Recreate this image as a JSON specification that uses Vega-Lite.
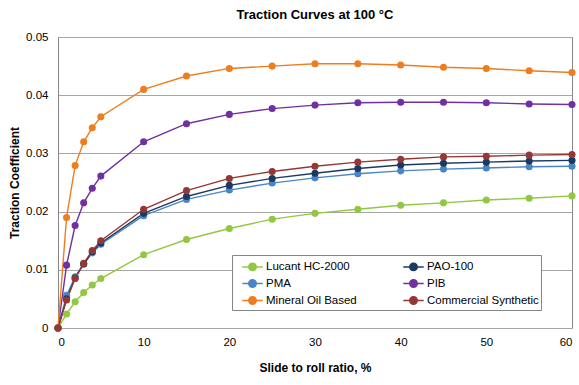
{
  "$schema": "https://vega.github.io/schema/vega-lite/v6.json",
  "width": 514,
  "height": 291,
  "autosize": {"type": "none"},
  "padding": {"left": 58, "top": 37, "right": 7, "bottom": 57},
  "background": "white",
  "title": {"text": "Traction Curves at 100 °C", "font": "Liberation Sans", "fontSize": 13, "fontWeight": "bold", "color": "#000000", "anchor": "middle", "offset": 9},
  "config": {
    "view": {"stroke": "#868686", "strokeWidth": 1},
    "font": "Liberation Sans"
  },
  "data": {"values": [
    {"x":0,"s":"Lucant HC-2000","y":0},{"x":1,"s":"Lucant HC-2000","y":0.0024},{"x":2,"s":"Lucant HC-2000","y":0.0045},{"x":3,"s":"Lucant HC-2000","y":0.0061},{"x":4,"s":"Lucant HC-2000","y":0.0074},{"x":5,"s":"Lucant HC-2000","y":0.0085},{"x":10,"s":"Lucant HC-2000","y":0.0126},{"x":15,"s":"Lucant HC-2000","y":0.0152},{"x":20,"s":"Lucant HC-2000","y":0.0171},{"x":25,"s":"Lucant HC-2000","y":0.0187},{"x":30,"s":"Lucant HC-2000","y":0.0197},{"x":35,"s":"Lucant HC-2000","y":0.0204},{"x":40,"s":"Lucant HC-2000","y":0.0211},{"x":45,"s":"Lucant HC-2000","y":0.0215},{"x":50,"s":"Lucant HC-2000","y":0.0220},{"x":55,"s":"Lucant HC-2000","y":0.0223},{"x":60,"s":"Lucant HC-2000","y":0.0227},
    {"x":0,"s":"PMA","y":0},{"x":1,"s":"PMA","y":0.0056},{"x":2,"s":"PMA","y":0.0088},{"x":3,"s":"PMA","y":0.0110},{"x":4,"s":"PMA","y":0.0129},{"x":5,"s":"PMA","y":0.0144},{"x":10,"s":"PMA","y":0.0193},{"x":15,"s":"PMA","y":0.0221},{"x":20,"s":"PMA","y":0.0237},{"x":25,"s":"PMA","y":0.0249},{"x":30,"s":"PMA","y":0.0258},{"x":35,"s":"PMA","y":0.0265},{"x":40,"s":"PMA","y":0.0270},{"x":45,"s":"PMA","y":0.0273},{"x":50,"s":"PMA","y":0.0275},{"x":55,"s":"PMA","y":0.0277},{"x":60,"s":"PMA","y":0.0278},
    {"x":0,"s":"PAO-100","y":0},{"x":1,"s":"PAO-100","y":0.0050},{"x":2,"s":"PAO-100","y":0.0086},{"x":3,"s":"PAO-100","y":0.0110},{"x":4,"s":"PAO-100","y":0.0131},{"x":5,"s":"PAO-100","y":0.0146},{"x":10,"s":"PAO-100","y":0.0197},{"x":15,"s":"PAO-100","y":0.0226},{"x":20,"s":"PAO-100","y":0.0245},{"x":25,"s":"PAO-100","y":0.0257},{"x":30,"s":"PAO-100","y":0.0266},{"x":35,"s":"PAO-100","y":0.0274},{"x":40,"s":"PAO-100","y":0.0280},{"x":45,"s":"PAO-100","y":0.0283},{"x":50,"s":"PAO-100","y":0.0285},{"x":55,"s":"PAO-100","y":0.0287},{"x":60,"s":"PAO-100","y":0.0288},
    {"x":0,"s":"PIB","y":0},{"x":1,"s":"PIB","y":0.0108},{"x":2,"s":"PIB","y":0.0176},{"x":3,"s":"PIB","y":0.0215},{"x":4,"s":"PIB","y":0.0240},{"x":5,"s":"PIB","y":0.0261},{"x":10,"s":"PIB","y":0.0320},{"x":15,"s":"PIB","y":0.0351},{"x":20,"s":"PIB","y":0.0367},{"x":25,"s":"PIB","y":0.0377},{"x":30,"s":"PIB","y":0.0383},{"x":35,"s":"PIB","y":0.0387},{"x":40,"s":"PIB","y":0.0388},{"x":45,"s":"PIB","y":0.0388},{"x":50,"s":"PIB","y":0.0387},{"x":55,"s":"PIB","y":0.0385},{"x":60,"s":"PIB","y":0.0384},
    {"x":0,"s":"Mineral Oil Based","y":0},{"x":1,"s":"Mineral Oil Based","y":0.0190},{"x":2,"s":"Mineral Oil Based","y":0.0279},{"x":3,"s":"Mineral Oil Based","y":0.0320},{"x":4,"s":"Mineral Oil Based","y":0.0344},{"x":5,"s":"Mineral Oil Based","y":0.0363},{"x":10,"s":"Mineral Oil Based","y":0.0410},{"x":15,"s":"Mineral Oil Based","y":0.0433},{"x":20,"s":"Mineral Oil Based","y":0.0446},{"x":25,"s":"Mineral Oil Based","y":0.0450},{"x":30,"s":"Mineral Oil Based","y":0.0454},{"x":35,"s":"Mineral Oil Based","y":0.0454},{"x":40,"s":"Mineral Oil Based","y":0.0452},{"x":45,"s":"Mineral Oil Based","y":0.0448},{"x":50,"s":"Mineral Oil Based","y":0.0446},{"x":55,"s":"Mineral Oil Based","y":0.0442},{"x":60,"s":"Mineral Oil Based","y":0.0439},
    {"x":0,"s":"Commercial Synthetic","y":0},{"x":1,"s":"Commercial Synthetic","y":0.0048},{"x":2,"s":"Commercial Synthetic","y":0.0085},{"x":3,"s":"Commercial Synthetic","y":0.0111},{"x":4,"s":"Commercial Synthetic","y":0.0133},{"x":5,"s":"Commercial Synthetic","y":0.0150},{"x":10,"s":"Commercial Synthetic","y":0.0204},{"x":15,"s":"Commercial Synthetic","y":0.0236},{"x":20,"s":"Commercial Synthetic","y":0.0257},{"x":25,"s":"Commercial Synthetic","y":0.0269},{"x":30,"s":"Commercial Synthetic","y":0.0278},{"x":35,"s":"Commercial Synthetic","y":0.0285},{"x":40,"s":"Commercial Synthetic","y":0.0290},{"x":45,"s":"Commercial Synthetic","y":0.0294},{"x":50,"s":"Commercial Synthetic","y":0.0295},{"x":55,"s":"Commercial Synthetic","y":0.0297},{"x":60,"s":"Commercial Synthetic","y":0.0298}
  ]},
  "mark": {"type": "line", "strokeWidth": 1.4, "point": {"filled": true, "size": 50, "opacity": 1}},
  "encoding": {
    "x": {"field": "x", "type": "quantitative",
      "scale": {"domain": [0, 60], "nice": false},
      "axis": {"title": "Slide to roll ratio, %", "values": [0,10,20,30,40,50,60], "grid": false, "ticks": false, "domain": false,
        "labelFont": "Liberation Sans", "labelFontSize": 11.5, "labelColor": "#000000", "labelPadding": 8,
        "titleFont": "Liberation Sans", "titleFontSize": 12, "titleFontWeight": "bold", "titleColor": "#000000", "titlePadding": 15}},
    "y": {"field": "y", "type": "quantitative",
      "scale": {"domain": [0, 0.05], "nice": false},
      "axis": {"title": "Traction Coefficient", "values": [0,0.01,0.02,0.03,0.04,0.05],
        "labelExpr": "datum.value == 0 ? '0' : format(datum.value, '.2f')",
        "grid": true, "gridColor": "#a6a6a6", "gridWidth": 1, "ticks": false, "domain": true, "domainColor": "#868686",
        "labelFont": "Liberation Sans", "labelFontSize": 11.5, "labelColor": "#000000", "labelPadding": 10,
        "titleFont": "Liberation Sans", "titleFontSize": 12, "titleFontWeight": "bold", "titleColor": "#000000", "titlePadding": 4}},
    "color": {"field": "s", "type": "nominal",
      "scale": {"domain": ["Lucant HC-2000", "PAO-100", "PMA", "PIB", "Mineral Oil Based", "Commercial Synthetic"],
        "range": ["#92C841", "#1B3A63", "#4A86C5", "#7030A0", "#EE7D1F", "#953735"]},
      "legend": {"title": null, "orient": "none", "legendX": 174, "legendY": 218, "columns": 2, "direction": "horizontal",
        "columnPadding": 38, "rowPadding": -0.5, "padding": 2, "symbolOffset": 9,
        "strokeColor": "#868686", "fillColor": "white",
        "symbolType": "M-1.2,0H1.2M0.44,0A0.44,0.44,0,1,1,-0.44,0A0.44,0.44,0,1,1,0.44,0Z",
        "symbolSize": 289, "symbolStrokeWidth": 1.5,
        "labelFont": "Liberation Sans", "labelFontSize": 11.5, "labelColor": "#000000", "labelOffset": 4,
        "encode": {"symbols": {"update": {"fill": {"scale": "color", "field": "value"}, "stroke": {"scale": "color", "field": "value"}, "opacity": {"value": 1}}}}}}
  }
}
